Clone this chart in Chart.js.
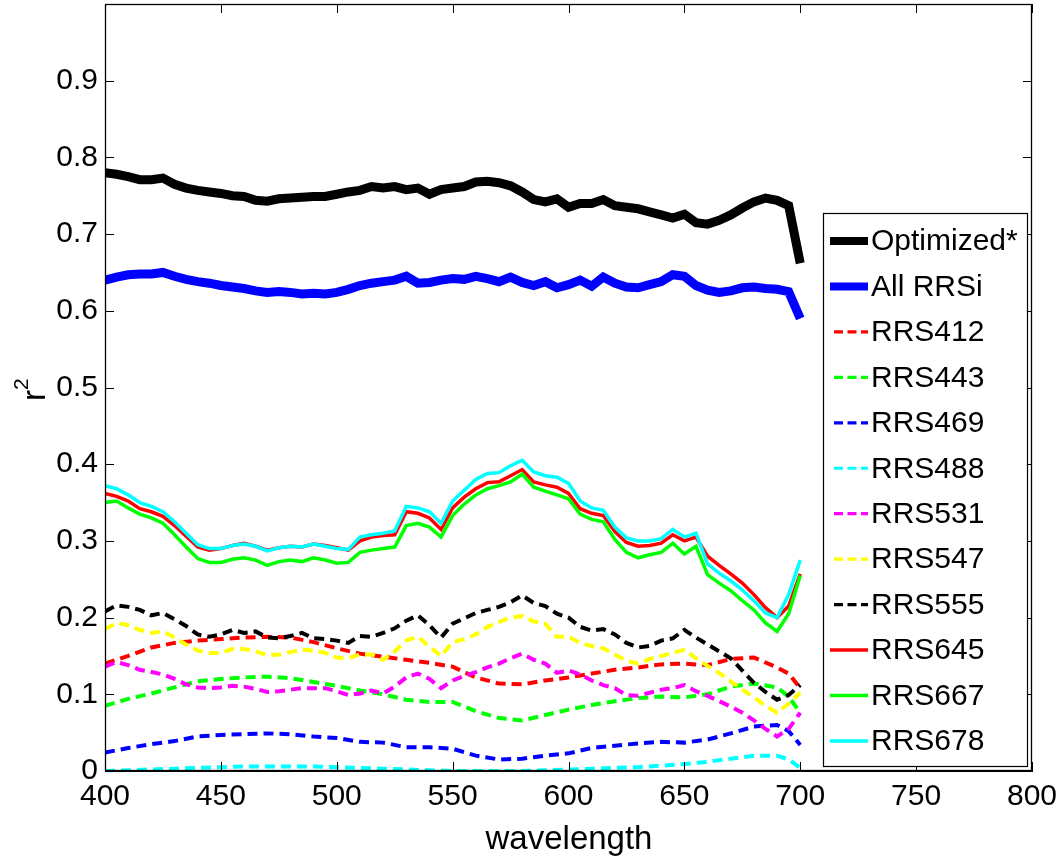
<!DOCTYPE html>
<html>
<head>
<meta charset="utf-8">
<script src="https://cdn.jsdelivr.net/npm/chart.js@4.4.1/dist/chart.umd.min.js"></script>
<style>
html,body{margin:0;padding:0;background:#fff;}
#wrap{width:1057px;height:857px;position:relative;}
</style>
</head>
<body>
<div id="wrap"><canvas id="c"></canvas></div>
<script>
// ---- data ----
const wl5 = [400,405,410,415,420,425,430,435,440,445,450,455,460,465,470,475,480,485,490,495,500,505,510,515,520,525,530,535,540,545,550,555,560,565,570,575,580,585,590,595,600,605,610,615,620,625,630,635,640,645,650,655,660,665,670,675,680,685,690,695,700];
const wl10 = [400,410,420,430,440,450,460,470,480,490,500,510,520,530,540,550,560,570,580,590,600,610,620,630,640,650,660,670,680,690,695,700];

const optimized = [0.780,0.778,0.775,0.771,0.771,0.773,0.765,0.760,0.757,0.755,0.753,0.750,0.749,0.744,0.743,0.746,0.747,0.748,0.749,0.749,0.752,0.755,0.757,0.762,0.760,0.762,0.758,0.760,0.752,0.758,0.760,0.762,0.768,0.769,0.767,0.763,0.755,0.745,0.742,0.746,0.735,0.740,0.740,0.745,0.737,0.735,0.733,0.729,0.725,0.721,0.726,0.715,0.713,0.718,0.725,0.734,0.742,0.747,0.744,0.737,0.662];
const allRRSi = [0.640,0.644,0.647,0.648,0.648,0.650,0.645,0.641,0.638,0.636,0.633,0.631,0.629,0.626,0.624,0.625,0.624,0.622,0.623,0.622,0.624,0.628,0.633,0.636,0.638,0.640,0.645,0.636,0.637,0.640,0.642,0.641,0.645,0.642,0.638,0.644,0.637,0.633,0.638,0.630,0.634,0.640,0.632,0.644,0.636,0.631,0.630,0.634,0.638,0.647,0.645,0.633,0.627,0.624,0.626,0.630,0.631,0.629,0.628,0.625,0.590];
const rrs645 = [0.362,0.358,0.352,0.342,0.338,0.332,0.320,0.306,0.292,0.288,0.290,0.294,0.297,0.293,0.288,0.291,0.293,0.292,0.296,0.294,0.291,0.288,0.300,0.305,0.307,0.308,0.338,0.336,0.330,0.315,0.343,0.357,0.368,0.376,0.377,0.385,0.393,0.377,0.373,0.370,0.362,0.342,0.336,0.333,0.312,0.298,0.293,0.294,0.297,0.308,0.300,0.305,0.280,0.268,0.257,0.245,0.230,0.213,0.200,0.215,0.257];
const rrs667 = [0.350,0.352,0.343,0.335,0.330,0.323,0.308,0.292,0.277,0.272,0.272,0.276,0.278,0.275,0.268,0.273,0.275,0.273,0.278,0.275,0.271,0.272,0.285,0.288,0.290,0.292,0.320,0.323,0.318,0.305,0.333,0.348,0.360,0.368,0.372,0.377,0.387,0.370,0.365,0.360,0.355,0.335,0.328,0.325,0.302,0.285,0.278,0.282,0.285,0.297,0.283,0.293,0.256,0.245,0.235,0.222,0.210,0.193,0.182,0.205,0.255];
const rrs678 = [0.372,0.368,0.360,0.350,0.345,0.338,0.325,0.310,0.295,0.290,0.290,0.294,0.296,0.293,0.287,0.291,0.293,0.292,0.296,0.293,0.290,0.289,0.305,0.308,0.310,0.313,0.345,0.343,0.338,0.323,0.352,0.366,0.380,0.388,0.389,0.398,0.405,0.390,0.385,0.383,0.375,0.352,0.343,0.340,0.318,0.304,0.300,0.300,0.303,0.315,0.305,0.310,0.270,0.258,0.248,0.236,0.222,0.206,0.200,0.230,0.275];
const rrs555 = [0.208,0.216,0.214,0.210,0.203,0.206,0.198,0.189,0.178,0.175,0.178,0.184,0.180,0.182,0.174,0.173,0.176,0.180,0.173,0.172,0.170,0.167,0.176,0.175,0.180,0.186,0.196,0.203,0.190,0.174,0.192,0.199,0.206,0.210,0.214,0.220,0.229,0.219,0.215,0.205,0.200,0.188,0.183,0.185,0.178,0.167,0.161,0.163,0.170,0.173,0.184,0.174,0.165,0.156,0.147,0.131,0.115,0.103,0.093,0.099,0.112];
const rrs547 = [0.185,0.193,0.190,0.184,0.180,0.182,0.174,0.165,0.157,0.154,0.154,0.159,0.159,0.156,0.151,0.152,0.155,0.158,0.157,0.154,0.148,0.147,0.152,0.152,0.145,0.156,0.170,0.175,0.162,0.150,0.168,0.172,0.178,0.188,0.194,0.200,0.202,0.195,0.192,0.175,0.175,0.167,0.163,0.160,0.152,0.144,0.140,0.146,0.150,0.154,0.158,0.147,0.137,0.128,0.117,0.106,0.096,0.085,0.076,0.088,0.102];
const rrs531 = [0.136,0.142,0.138,0.132,0.129,0.126,0.120,0.113,0.109,0.108,0.109,0.111,0.110,0.107,0.103,0.104,0.106,0.108,0.108,0.108,0.104,0.099,0.101,0.105,0.101,0.110,0.122,0.127,0.120,0.108,0.118,0.124,0.129,0.135,0.140,0.147,0.153,0.145,0.140,0.128,0.131,0.126,0.118,0.112,0.108,0.099,0.098,0.102,0.106,0.108,0.112,0.104,0.098,0.091,0.084,0.076,0.066,0.055,0.045,0.055,0.076];
const rrs412 = [0.140,0.150,0.161,0.167,0.170,0.172,0.174,0.175,0.174,0.168,0.160,0.153,0.149,0.145,0.141,0.136,0.122,0.114,0.113,0.118,0.122,0.127,0.132,0.135,0.139,0.140,0.138,0.146,0.148,0.135,0.127,0.108];
const rrs443 = [0.085,0.094,0.101,0.109,0.117,0.120,0.122,0.123,0.121,0.116,0.111,0.105,0.100,0.093,0.090,0.090,0.078,0.069,0.066,0.073,0.080,0.086,0.091,0.095,0.097,0.096,0.100,0.110,0.114,0.109,0.097,0.076];
const rrs469 = [0.024,0.030,0.035,0.039,0.045,0.047,0.048,0.049,0.048,0.045,0.043,0.038,0.037,0.031,0.031,0.029,0.020,0.015,0.016,0.020,0.023,0.030,0.033,0.036,0.038,0.037,0.041,0.049,0.058,0.060,0.052,0.034];
const rrs488 = [0.000,0.001,0.002,0.003,0.004,0.005,0.006,0.006,0.006,0.006,0.005,0.004,0.003,0.002,0.001,0.000,0.000,0.000,0.000,0.001,0.002,0.003,0.004,0.005,0.007,0.009,0.012,0.016,0.020,0.020,0.015,0.004];

const xTicks = [400,450,500,550,600,650,700,750,800];
const yTicks = [0,0.1,0.2,0.3,0.4,0.5,0.6,0.7,0.8,0.9];

// ---- styles ----
const FONT = "'Liberation Sans', Arial, Helvetica, sans-serif";
const series = [
  {label:'Optimized*', wl:wl5,  y:optimized, color:'#000000', width:9,   dash:[]},
  {label:'All RRSi',   wl:wl5,  y:allRRSi,   color:'#0000ff', width:9,   dash:[]},
  {label:'RRS412',     wl:wl10, y:rrs412,    color:'#ff0000', width:4, dash:[10,6]},
  {label:'RRS443',     wl:wl10, y:rrs443,    color:'#00ff00', width:4, dash:[10,6]},
  {label:'RRS469',     wl:wl10, y:rrs469,    color:'#0000ff', width:4, dash:[10,6]},
  {label:'RRS488',     wl:wl10, y:rrs488,    color:'#00ffff', width:4, dash:[10,6]},
  {label:'RRS531',     wl:wl5,  y:rrs531,    color:'#ff00ff', width:4, dash:[10,6]},
  {label:'RRS547',     wl:wl5,  y:rrs547,    color:'#ffff00', width:4, dash:[10,6]},
  {label:'RRS555',     wl:wl5,  y:rrs555,    color:'#000000', width:4, dash:[10,6]},
  {label:'RRS645',     wl:wl5,  y:rrs645,    color:'#ff0000', width:3.5, dash:[]},
  {label:'RRS667',     wl:wl5,  y:rrs667,    color:'#00ff00', width:3.5, dash:[]},
  {label:'RRS678',     wl:wl5,  y:rrs678,    color:'#00ffff', width:3.5, dash:[]}
];

const datasets = series.map((s,i)=>({
  label:s.label,
  data:s.wl.map((w,k)=>({x:w,y:s.y[k]})),
  borderColor:s.color,
  backgroundColor:s.color,
  borderWidth:s.width,
  borderDash:s.dash,
  pointRadius:0,
  tension:0,
  fill:false,
  order:series.length - i
}));

const framePlugin = {
  id:'frame',
  afterDatasetsDraw(chart){
    const {ctx, chartArea:a, scales} = chart;
    ctx.save();
    ctx.strokeStyle='#000';
    ctx.lineWidth=1;
    ctx.setLineDash([]);
    // inward tick marks
    ctx.beginPath();
    xTicks.forEach(v=>{
      const px=Math.round(scales.x.getPixelForValue(v))+0.5;
      ctx.moveTo(px,a.bottom); ctx.lineTo(px,a.bottom-9);
      ctx.moveTo(px,a.top); ctx.lineTo(px,a.top+9);
    });
    yTicks.forEach(v=>{
      const py=Math.round(scales.y.getPixelForValue(v))+0.5;
      ctx.moveTo(a.left,py); ctx.lineTo(a.left+9,py);
      ctx.moveTo(a.right,py); ctx.lineTo(a.right-9,py);
    });
    ctx.stroke();
    ctx.lineWidth=1.3;
    ctx.strokeRect(a.left+0.5,a.top+0.5,a.right-a.left-1,a.bottom-a.top-1);

    // legend
    const bx=823, by=213, bw=204, bh=553;
    ctx.fillStyle='#fff';
    ctx.fillRect(bx,by,bw,bh);
    ctx.lineWidth=1.2;
    ctx.strokeStyle='#000';
    ctx.strokeRect(bx+0.5,by+0.5,bw,bh);
    ctx.font='30px '+FONT;
    ctx.textBaseline='middle';
    ctx.textAlign='left';
    series.forEach((s,i)=>{
      const cy=240+i*45.45;
      ctx.save();
      ctx.strokeStyle=s.color;
      ctx.lineWidth=s.dash.length? 3.2 : (s.width>5?8:3.5);
      ctx.setLineDash(s.dash.length?[9,4.5]:[]);
      ctx.beginPath();
      const x0 = s.dash.length? 834 : 830;
      ctx.moveTo(x0,cy+1); ctx.lineTo(868,cy+1);
      ctx.stroke();
      ctx.restore();
      ctx.fillStyle='#000';
      ctx.fillText(s.label,871,cy+2);
    });

    // axis titles
    ctx.fillStyle='#000';
    ctx.font='33px '+FONT;
    ctx.textAlign='center';
    ctx.textBaseline='alphabetic';
    ctx.fillText('wavelength',569,849);

    ctx.save();
    ctx.translate(45,401);
    ctx.rotate(-Math.PI/2);
    ctx.textAlign='left';
    ctx.font='33px '+FONT;
    ctx.fillText('r',0,0);
    ctx.font='21px '+FONT;
    ctx.fillText('2',11,-17);
    ctx.restore();
    ctx.restore();
  }
};

new Chart(document.getElementById('c'),{
  type:'line',
  data:{datasets},
  options:{
    responsive:true,
    maintainAspectRatio:false,
    animation:false,
    devicePixelRatio:1,
    layout:{padding:{top:4,right:25,left:0,bottom:0}},
    plugins:{legend:{display:false},tooltip:{enabled:false},title:{display:false}},
    scales:{
      x:{
        type:'linear',min:400,max:800,
        ticks:{stepSize:50,color:'#000',font:{family:FONT,size:30},padding:8,maxRotation:0,autoSkip:false},
        grid:{display:false,drawTicks:false},
        border:{display:true,color:'#000',width:1},
        afterFit(s){s.height=86;s.paddingLeft=0;s.paddingRight=0;}
      },
      y:{
        min:0,max:1,
        ticks:{stepSize:0.1,color:'#000',font:{family:FONT,size:30},padding:7,
          callback:(v)=> v>0.95 ? '' : String(Math.round(v*10)/10)},
        grid:{display:false,drawTicks:false},
        border:{display:true,color:'#000',width:1},
        afterFit(s){s.width=105;s.paddingTop=0;s.paddingBottom=0;}
      }
    }
  },
  plugins:[framePlugin]
});
</script>
</body>
</html>
